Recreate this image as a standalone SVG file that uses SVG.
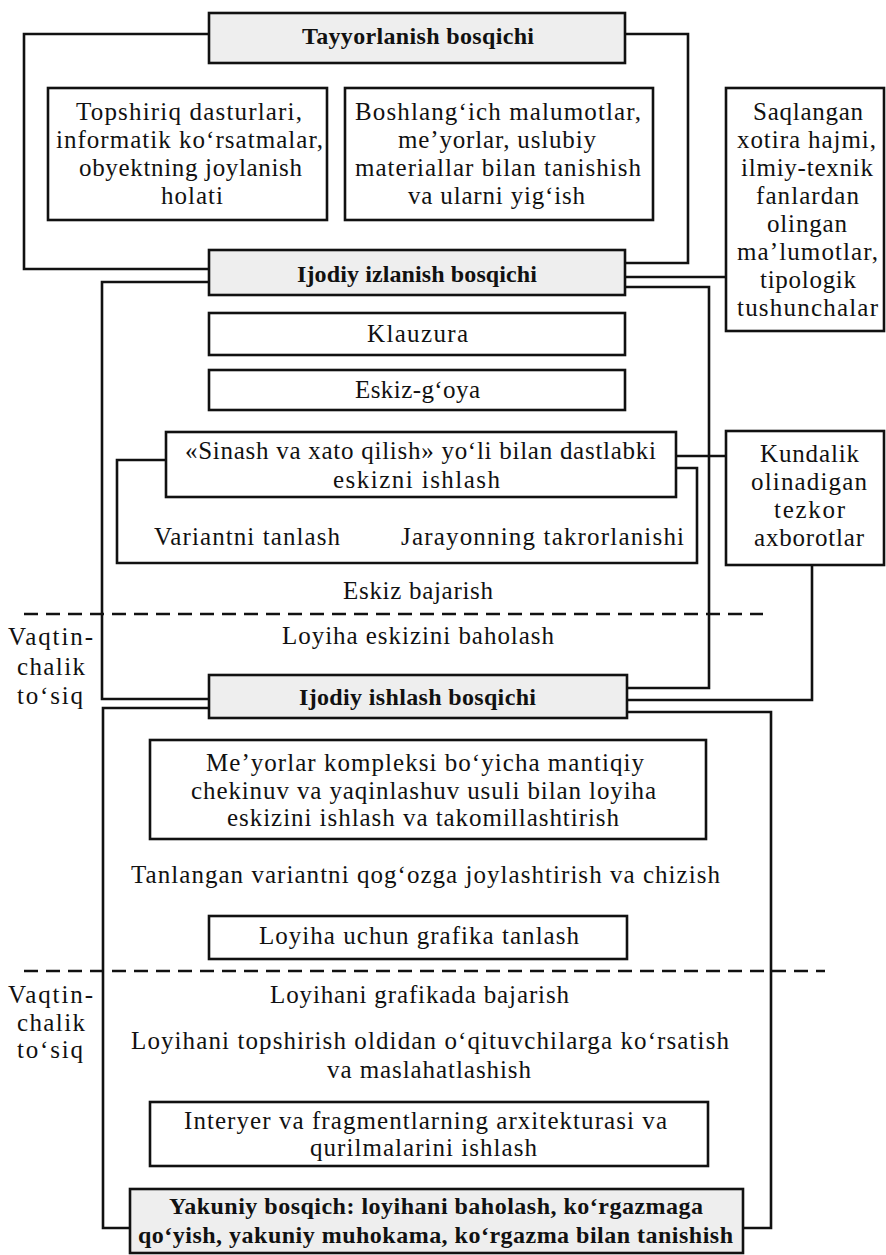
<svg xmlns="http://www.w3.org/2000/svg" width="886" height="1255" viewBox="0 0 886 1255">
<style>
.box{fill:#fff;stroke:#111;stroke-width:2.6}
.stage{fill:#eeeeee;stroke:#111;stroke-width:2.6}
.ln{fill:none;stroke:#111;stroke-width:2.6}
.dash{fill:none;stroke:#111;stroke-width:2.6;stroke-dasharray:14 8}
text{font-family:"Liberation Serif","Times New Roman",serif;font-size:25px;fill:#111}
.b{font-weight:bold;font-size:24px}
</style>
<rect width="886" height="1255" fill="#fff"/>
<g id="connectors">
<polyline class="ln" points="209,34 24,34 24,269 209,269"/>
<polyline class="ln" points="625,34 688,34 688,263 625,263"/>
<line class="ln" x1="625" y1="277" x2="726" y2="277"/>
<polyline class="ln" points="625,287 709,287 709,688 627,688"/>
<polyline class="ln" points="209,282 102,282 102,699 209,699"/>
<polyline class="ln" points="166,460 117,460 117,563 697,563 697,468 676,468"/>
<line class="ln" x1="676" y1="456" x2="726" y2="456"/>
<polyline class="ln" points="812,565 812,700 627,700"/>
<polyline class="ln" points="209,708 103,708 103,1228 130,1228"/>
<polyline class="ln" points="627,712 771,712 771,1228 743,1228"/>
<line class="dash" x1="24" y1="614" x2="763" y2="614"/>
<line class="dash" x1="24" y1="971" x2="825" y2="971"/>
</g>
<g id="tayyorlanish">
<rect class="stage" x="209" y="13" width="416" height="50"/>
<text class="b" x="302" y="44" textLength="232">Tayyorlanish bosqichi</text>
</g>
<g id="topshiriq">
<rect class="box" x="48" y="88" width="279" height="132"/>
<text x="76" y="120" textLength="226">Topshiriq dasturlari,</text>
<text x="56" y="148" textLength="267">informatik ko‘rsatmalar,</text>
<text x="79" y="176" textLength="223">obyektning joylanish</text>
<text x="161" y="204" textLength="62">holati</text>
</g>
<g id="boshlangich">
<rect class="box" x="345" y="88" width="308" height="132"/>
<text x="355" y="120" textLength="286">Boshlang‘ich malumotlar,</text>
<text x="398" y="148" textLength="198">me’yorlar, uslubiy</text>
<text x="355" y="176" textLength="286">materiallar bilan tanishish</text>
<text x="408" y="204" textLength="177">va ularni yig‘ish</text>
</g>
<g id="saqlangan">
<rect class="box" x="726" y="88" width="158" height="243"/>
<text x="753" y="120" textLength="110">Saqlangan</text>
<text x="737" y="148" textLength="139">xotira hajmi,</text>
<text x="741" y="176" textLength="132">ilmiy-texnik</text>
<text x="756" y="204" textLength="103">fanlardan</text>
<text x="767" y="232" textLength="80">olingan</text>
<text x="737" y="260" textLength="141">ma’lumotlar,</text>
<text x="760" y="288" textLength="96">tipologik</text>
<text x="737" y="316" textLength="141">tushunchalar</text>
</g>
<g id="ijodiy-izlanish">
<rect class="stage" x="209" y="250" width="416" height="45"/>
<text class="b" x="297" y="282" textLength="240">Ijodiy izlanish bosqichi</text>
</g>
<g id="klauzura">
<rect class="box" x="209" y="313" width="416" height="42"/>
<text x="367" y="342" textLength="101">Klauzura</text>
</g>
<g id="eskiz-goya">
<rect class="box" x="209" y="370" width="416" height="40"/>
<text x="355" y="398" textLength="125">Eskiz-g‘oya</text>
</g>
<g id="sinash">
<rect class="box" x="166" y="432" width="510" height="65"/>
<text x="185" y="459" textLength="471">«Sinash va xato qilish» yo‘li bilan dastlabki</text>
<text x="333" y="488" textLength="167">eskizni ishlash</text>
</g>
<g id="kundalik">
<rect class="box" x="726" y="431" width="158" height="134"/>
<text x="760" y="462" textLength="99">Kundalik</text>
<text x="751" y="490" textLength="116">olinadigan</text>
<text x="774" y="518" textLength="71">tezkor</text>
<text x="754" y="546" textLength="110">axborotlar</text>
</g>
<g id="variantni-tanlash">
<text x="154" y="545" textLength="186">Variantni tanlash</text>
</g>
<g id="jarayon">
<text x="401" y="545" textLength="283">Jarayonning takrorlanishi</text>
</g>
<g id="eskiz-bajarish">
<text x="343" y="599" textLength="150">Eskiz bajarish</text>
</g>
<g id="loyiha-eskizini">
<text x="282" y="644" textLength="272">Loyiha eskizini baholash</text>
</g>
<g id="vaqtinchalik-1">
<text x="8" y="645" textLength="85">Vaqtin-</text>
<text x="17" y="675" textLength="68">chalik</text>
<text x="17" y="704" textLength="66">to‘siq</text>
</g>
<g id="ijodiy-ishlash">
<rect class="stage" x="209" y="675" width="418" height="43"/>
<text class="b" x="299" y="705" textLength="237">Ijodiy ishlash bosqichi</text>
</g>
<g id="meyorlar">
<rect class="box" x="150" y="740" width="556" height="99"/>
<text x="206" y="771" textLength="438">Me’yorlar kompleksi bo‘yicha mantiqiy</text>
<text x="191" y="799" textLength="465">chekinuv va yaqinlashuv usuli bilan loyiha</text>
<text x="227" y="826" textLength="392">eskizini ishlash va takomillashtirish</text>
</g>
<g id="tanlangan">
<text x="131" y="883" textLength="589">Tanlangan variantni qog‘ozga joylashtirish va chizish</text>
</g>
<g id="grafika-tanlash">
<rect class="box" x="209" y="916" width="418" height="43"/>
<text x="259" y="944" textLength="320">Loyiha uchun grafika tanlash</text>
</g>
<g id="vaqtinchalik-2">
<text x="8" y="1003" textLength="85">Vaqtin-</text>
<text x="17" y="1031" textLength="68">chalik</text>
<text x="17" y="1058" textLength="66">to‘siq</text>
</g>
<g id="grafikada-bajarish">
<text x="270" y="1003" textLength="299">Loyihani grafikada bajarish</text>
</g>
<g id="topshirish">
<text x="131" y="1049" textLength="598">Loyihani topshirish oldidan o‘qituvchilarga ko‘rsatish</text>
<text x="327" y="1078" textLength="204">va maslahatlashish</text>
</g>
<g id="interyer">
<rect class="box" x="150" y="1102" width="558" height="64"/>
<text x="184" y="1129" textLength="483">Interyer va fragmentlarning arxitekturasi va</text>
<text x="310" y="1156" textLength="227">qurilmalarini ishlash</text>
</g>
<g id="yakuniy">
<rect class="stage" x="130" y="1189" width="613" height="64"/>
<text class="b" x="169" y="1214" textLength="534">Yakuniy bosqich: loyihani baholash, ko‘rgazmaga</text>
<text class="b" x="138" y="1243" textLength="595">qo‘yish, yakuniy muhokama, ko‘rgazma bilan tanishish</text>
</g>
</svg>
